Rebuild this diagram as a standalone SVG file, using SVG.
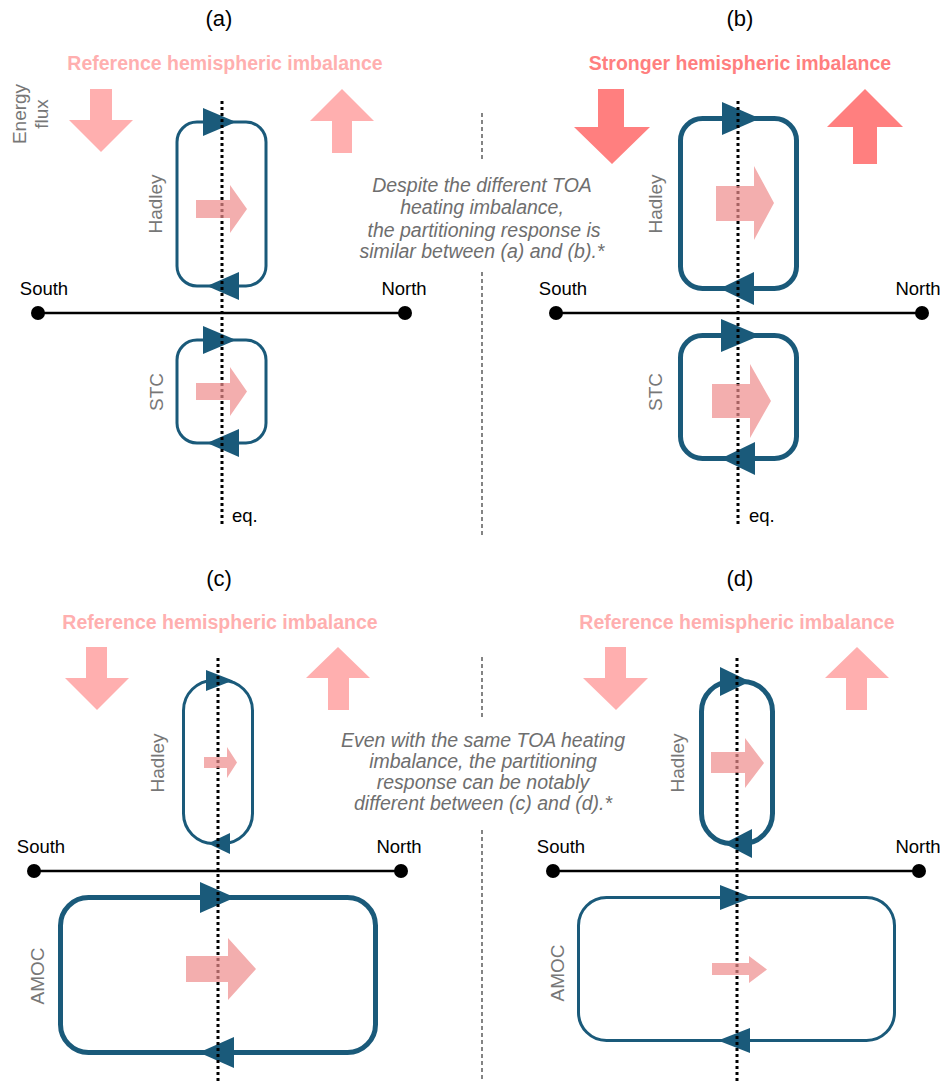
<svg xmlns="http://www.w3.org/2000/svg" width="945" height="1084" viewBox="0 0 945 1084">
<style>
text{font-family:"Liberation Sans",Arial,sans-serif}
.ttl{font-size:22px;fill:#000;text-anchor:middle}
.ref{font-size:19.5px;font-weight:bold;fill:#FFAFAF;text-anchor:middle}
.str{font-size:19.5px;font-weight:bold;fill:#FF7F7F;text-anchor:middle}
.ax{font-size:18.5px;fill:#000;text-anchor:middle}
.lbl{font-size:19px;fill:#777;text-anchor:middle}
.note{font-size:19.5px;font-style:italic;fill:#6E6E6E;text-anchor:middle}
.loop{fill:none;stroke:#1A5A7A}
.thin{stroke-width:3}
.thick{stroke-width:5}
.head{fill:#1A5A7A}
.flux{fill:#EE8C8C;opacity:0.7}
.vr{fill:#FFAFAF}
.vs{fill:#FF7F7F}
.eq{stroke:#000;stroke-width:3;stroke-dasharray:3 3;fill:none}
.div{stroke:#333;stroke-width:1.2;stroke-dasharray:4 3;fill:none}
.axis{stroke:#000;stroke-width:2.5}
</style>

<!-- panel titles -->
<g id="titles">
<text class="ttl" x="219" y="26">(a)</text>
<text class="ttl" x="740" y="26">(b)</text>
<text class="ttl" x="219" y="586">(c)</text>
<text class="ttl" x="740" y="586">(d)</text>
<text class="ref" x="225" y="70">Reference hemispheric imbalance</text>
<text class="str" x="740" y="70">Stronger hemispheric imbalance</text>
<text class="ref" x="220" y="629">Reference hemispheric imbalance</text>
<text class="ref" x="737" y="629">Reference hemispheric imbalance</text>
</g>

<!-- dividers -->
<g id="dividers">
<line class="div" x1="482" y1="113" x2="482" y2="160"/>
<line class="div" x1="482" y1="272" x2="482" y2="538"/>
<line class="div" x1="482" y1="657" x2="482" y2="720"/>
<line class="div" x1="482" y1="830" x2="482" y2="1080"/>
</g>

<!-- notes -->
<g id="note-ab">
<text class="note" x="482" y="192">Despite the different TOA</text>
<text class="note" x="482" y="214">heating imbalance,</text>
<text class="note" x="484" y="237">the partitioning response is</text>
<text class="note" x="482" y="258">similar between (a) and (b).*</text>
</g>
<g id="note-cd">
<text class="note" x="483" y="747">Even with the same TOA heating</text>
<text class="note" x="483" y="768">imbalance, the partitioning</text>
<text class="note" x="483" y="789">response can be notably</text>
<text class="note" x="483" y="810">different between (c) and (d).*</text>
</g>

<!-- energy flux label -->
<g id="energy-flux-label">
<text class="lbl" transform="translate(26,114) rotate(-90)">Energy</text>
<text class="lbl" transform="translate(48,114) rotate(-90)">flux</text>
</g>

<!-- vertical TOA arrows -->
<g id="toa-a">
<polygon class="vr" points="90,89 112,89 112,120 133,120 101,152 69,120 90,120"/>
<polygon class="vr" points="342,89 374,121 352,121 352,153 332,153 332,121 310,121"/>
</g>
<g id="toa-b">
<polygon class="vs" points="598,89 624,89 624,127 650,127 612,164 574,127 598,127"/>
<polygon class="vs" points="865,89 903,127 877,127 877,164 853,164 853,127 827,127"/>
</g>
<g id="toa-c">
<polygon class="vr" points="86,647 107,647 107,678 129,678 97,710 65,678 86,678"/>
<polygon class="vr" points="338,647 370,678 349,678 349,710 328,710 328,678 306,678"/>
</g>
<g id="toa-d">
<polygon class="vr" points="605,647 626,647 626,678 648,678 616,710 583,678 605,678"/>
<polygon class="vr" points="857,647 889,678 867,678 867,710 846,710 846,678 825,678"/>
</g>

<!-- axes -->
<g id="axis-a">
<line class="axis" x1="38" y1="313" x2="405" y2="313"/>
<circle cx="38" cy="313" r="7"/><circle cx="405" cy="313" r="7"/>
<text class="ax" x="44" y="295">South</text>
<text class="ax" x="404" y="295">North</text>
</g>
<g id="axis-b">
<line class="axis" x1="556" y1="313" x2="922" y2="313"/>
<circle cx="556" cy="313" r="7"/><circle cx="922" cy="313" r="7"/>
<text class="ax" x="563" y="295">South</text>
<text class="ax" x="918" y="295">North</text>
</g>
<g id="axis-c">
<line class="axis" x1="34" y1="871" x2="401" y2="871"/>
<circle cx="34" cy="871" r="7"/><circle cx="401" cy="871" r="7"/>
<text class="ax" x="41" y="853">South</text>
<text class="ax" x="399" y="853">North</text>
</g>
<g id="axis-d">
<line class="axis" x1="553" y1="871" x2="919" y2="871"/>
<circle cx="553" cy="871" r="7"/><circle cx="919" cy="871" r="7"/>
<text class="ax" x="561" y="853">South</text>
<text class="ax" x="918" y="853">North</text>
</g>

<!-- circulation loops -->
<g id="hadley-a">
<rect class="loop thin" x="177" y="122" width="89" height="164" rx="20"/>
<polygon class="head" points="203,108 236,122 203,136"/>
<polygon class="head" points="239,272 207,286 239,300"/>
<text class="lbl" transform="translate(162,204) rotate(-90)">Hadley</text>
</g>
<g id="stc-a">
<rect class="loop thin" x="177" y="340" width="89" height="103" rx="20"/>
<polygon class="head" points="203,326 236,340 203,354"/>
<polygon class="head" points="239,429 207,443 239,457"/>
<text class="lbl" transform="translate(163,392) rotate(-90)">STC</text>
</g>
<g id="hadley-b">
<rect class="loop thick" x="680.5" y="118.5" width="116" height="170" rx="22"/>
<polygon class="head" points="722,102 760,118.5 722,135"/>
<polygon class="head" points="754,272 720,288.5 754,305"/>
<text class="lbl" transform="translate(662,204) rotate(-90)">Hadley</text>
</g>
<g id="stc-b">
<rect class="loop thick" x="680.5" y="335.5" width="116" height="123" rx="22"/>
<polygon class="head" points="721,319 760,335.5 721,352"/>
<polygon class="head" points="755,442 721,458.5 755,475"/>
<text class="lbl" transform="translate(662,392) rotate(-90)">STC</text>
</g>
<g id="hadley-c">
<rect class="loop thin" x="183.5" y="680.5" width="69" height="163" rx="30"/>
<polygon class="head" points="206,670 233,680.5 206,691"/>
<polygon class="head" points="230,833 208,843.5 230,854"/>
<text class="lbl" transform="translate(164,763) rotate(-90)">Hadley</text>
</g>
<g id="amoc-c">
<rect class="loop thick" x="60.5" y="897.5" width="315" height="155" rx="28"/>
<polygon class="head" points="200,882 235,897.5 200,913"/>
<polygon class="head" points="234,1037 199,1052.5 234,1068"/>
<text class="lbl" transform="translate(44,976) rotate(-90)">AMOC</text>
</g>
<g id="hadley-d">
<rect class="loop thick" x="701.5" y="681.5" width="71" height="162" rx="30"/>
<polygon class="head" points="720,667 750,681.5 720,696"/>
<polygon class="head" points="752,829 724,843.5 752,858"/>
<text class="lbl" transform="translate(684,763) rotate(-90)">Hadley</text>
</g>
<g id="amoc-d">
<rect class="loop thin" x="578.5" y="897.5" width="316" height="143" rx="28"/>
<polygon class="head" points="720,885 752,897.5 720,910"/>
<polygon class="head" points="750,1028 718,1040.5 750,1053"/>
<text class="lbl" transform="translate(564,973) rotate(-90)">AMOC</text>
</g>

<!-- equator lines -->
<g id="equator">
<line class="eq" x1="222" y1="101" x2="222" y2="527"/>
<line class="eq" x1="738" y1="101" x2="738" y2="527"/>
<line class="eq" x1="218" y1="658" x2="218" y2="1082"/>
<line class="eq" x1="737" y1="658" x2="737" y2="1082"/>
<text class="ax" x="232" y="522" style="text-anchor:start">eq.</text>
<text class="ax" x="749" y="522" style="text-anchor:start">eq.</text>
</g>

<!-- cross-equatorial energy transport arrows -->
<g id="transport">
<polygon class="flux" points="196,200 230,200 230,185 247,209 230,233 230,218 196,218"/>
<polygon class="flux" points="196,383 230,383 230,367 247,391.5 230,416 230,400 196,400"/>
<polygon class="flux" points="716,186 754,186 754,166 774,203 754,240 754,221 716,221"/>
<polygon class="flux" points="712,384 750,384 750,364 771,401 750,438 750,418 712,418"/>
<polygon class="flux" points="204,757 227,757 227,747 237,762.5 227,778 227,768 204,768"/>
<polygon class="flux" points="186,956 228,956 228,938 256,969 228,1000 228,982 186,982"/>
<polygon class="flux" points="711,752 745,752 745,738 764,763 745,788 745,773 711,773"/>
<polygon class="flux" points="712,963 749,963 749,956 767,969.5 749,983 749,975 712,975"/>
</g>
</svg>
